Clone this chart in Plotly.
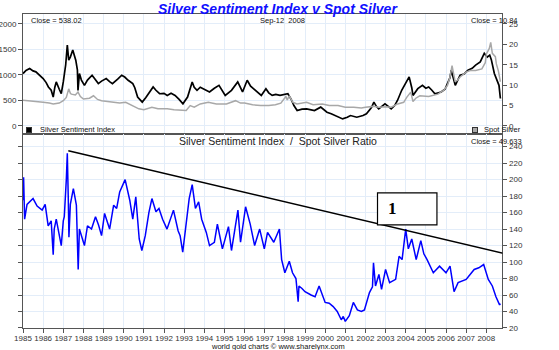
import plotly.graph_objects as go
from plotly.subplots import make_subplots

# ---------------- data ----------------
ssi_years = [1985.0,1985.15,1985.33,1985.5,1985.64,1985.8,1986.0,1986.15,1986.26,1986.4,1986.5,1986.58,1986.65,1986.8,1986.9,
             1987.0,1987.12,1987.2,1987.27,1987.35,1987.47,1987.55,1987.62,1987.7,1987.73,1987.8,1987.9,1988.05,1988.2,1988.43,
             1988.6,1988.74,1988.9,1989.13,1989.3,1989.44,1989.7,1989.9,1990.05,1990.22,1990.45,1990.55,1990.69,1990.8,1990.92,
             1991.1,1991.23,1991.46,1991.6,1991.78,1992.0,1992.16,1992.35,1992.55,1992.75,1992.94,1993.17,1993.4,1993.5,1993.64,
             1993.8,1993.95,1994.26,1994.5,1994.73,1995.04,1995.2,1995.35,1995.66,1995.9,1996.13,1996.3,1996.44,1996.6,1996.83,
             1997.06,1997.2,1997.37,1997.55,1997.76,1998.0,1998.15,1998.3,1998.45,1998.61,1998.85,1999.08,1999.3,1999.47,1999.78,
             2000.09,2000.3,2000.48,2000.7,2000.87,2001.1,2001.26,2001.57,2001.88,2002.05,2002.19,2002.3,2002.42,2002.55,2002.66,
             2002.85,2002.97,2003.15,2003.28,2003.45,2003.59,2003.8,2003.97,2004.1,2004.17,2004.3,2004.36,2004.6,2004.83,2005.0,
             2005.14,2005.3,2005.45,2005.76,2005.95,2006.07,2006.2,2006.26,2006.35,2006.46,2006.7,2006.9,2007.09,2007.3,2007.47,
             2007.7,2007.9,2008.05,2008.17,2008.25,2008.4,2008.55,2008.63,2008.7]
ssi_values = [1028,1090,1126,1080,1061,1000,929,850,765,700,567,760,863,720,632,
              863,1200,1587,1290,1350,1488,1380,1290,1100,698,1028,900,797,900,995,
              900,830,880,929,870,830,920,995,960,896,830,750,567,520,468,
              560,632,765,700,632,640,599,640,599,520,435,567,863,760,698,
              760,731,666,740,797,599,650,698,863,666,896,780,731,680,599,
              731,650,599,620,599,620,632,533,400,302,330,336,320,302,369,
              270,240,204,170,138,170,204,171,204,240,302,360,468,380,336,
              400,435,380,336,400,500,700,830,900,962,750,599,731,797,740,
              765,700,632,666,720,830,950,1093,950,797,995,1020,1093,1130,1192,
              1258,1423,1350,1390,1300,1028,900,797,538.02]

silver_years = [1985.0,1985.3,1985.6,1986.0,1986.3,1986.5,1986.8,1987.0,1987.15,1987.27,1987.35,1987.4,1987.6,1987.73,1987.85,
                1988.0,1988.3,1988.5,1988.7,1988.9,1989.2,1989.5,1989.8,1990.1,1990.4,1990.75,1991.0,1991.4,1991.7,1992.16,
                1992.5,1992.94,1993.1,1993.3,1993.5,1993.8,1994.2,1994.6,1995.1,1995.55,1995.8,1996.0,1996.4,1996.8,1997.2,
                1997.53,1997.8,1998.05,1998.12,1998.22,1998.4,1998.6,1999.08,1999.4,1999.86,2000.2,2000.64,2001.0,2001.42,2001.8,
                2002.0,2002.4,2002.66,2003.0,2003.28,2003.6,2003.9,2004.05,2004.25,2004.36,2004.5,2004.7,2005.14,2005.6,2005.9,
                2006.07,2006.2,2006.3,2006.45,2006.55,2006.7,2007.0,2007.2,2007.47,2007.78,2007.95,2008.0,2008.15,2008.22,2008.3,
                2008.35,2008.45,2008.5,2008.6,2008.7]
silver_values = [6.3,6.2,6.0,5.8,5.6,5.4,5.6,6.2,7.0,9.1,8.0,7.8,7.6,8.3,7.2,
                 6.6,6.8,7.4,6.5,6.2,6.0,5.8,5.6,5.8,5.0,4.2,4.0,4.6,4.2,4.2,
                 4.0,3.75,3.8,5.0,4.6,5.4,5.8,5.4,5.4,6.2,5.6,5.6,5.2,5.0,5.0,
                 5.2,5.6,7.2,6.4,7.4,5.8,5.4,5.8,5.2,5.4,5.0,5.0,4.6,4.6,4.4,
                 4.6,4.8,4.6,4.7,4.6,5.4,5.8,7.0,8.3,6.0,6.8,7.4,7.2,7.8,8.8,
                 9.9,12.0,14.8,11.0,11.1,12.0,13.2,13.6,13.6,14.0,15.5,17.6,19.0,20.5,17.8,
                 17.6,17.0,15.2,13.5,10.84]

ratio_years = [1985.0,1985.03,1985.08,1985.2,1985.5,1985.7,1985.95,1986.1,1986.25,1986.4,1986.5,1986.55,1986.65,1986.8,1986.9,
               1987.0,1987.05,1987.15,1987.2,1987.25,1987.28,1987.35,1987.5,1987.65,1987.72,1987.74,1987.8,1987.9,1988.05,1988.2,
               1988.4,1988.6,1988.75,1988.9,1989.05,1989.3,1989.5,1989.65,1989.8,1990.07,1990.2,1990.3,1990.45,1990.6,1990.77,
               1990.9,1991.07,1991.25,1991.4,1991.6,1991.75,1991.93,1992.15,1992.3,1992.47,1992.7,1992.8,1992.93,1993.1,1993.25,
               1993.4,1993.5,1993.56,1993.72,1993.87,1994.1,1994.26,1994.5,1994.65,1994.9,1995.2,1995.35,1995.5,1995.67,1995.8,
               1996.05,1996.28,1996.5,1996.75,1996.98,1997.14,1997.3,1997.45,1997.73,1997.84,1998.0,1998.22,1998.38,1998.55,1998.66,
               1998.7,1998.85,1999.0,1999.3,1999.5,1999.7,1999.85,2000.0,2000.2,2000.4,2000.6,2000.8,2000.9,2001.0,2001.2,
               2001.4,2001.6,2001.8,2001.95,2002.2,2002.35,2002.4,2002.5,2002.67,2002.8,2003.0,2003.2,2003.5,2003.67,2003.82,
               2004.0,2004.13,2004.3,2004.52,2004.75,2004.9,2005.06,2005.37,2005.68,2006.0,2006.2,2006.4,2006.6,2007.0,2007.4,
               2007.63,2007.87,2008.1,2008.3,2008.48,2008.66,2008.7]
ratio_values = [175,203,152,170,177,168,163,170,144,150,109,140,152,135,120,
                150,155,200,232,175,130,170,189,169,120,91,140,132,120,144,
                140,155,145,132,159,140,169,165,185,200,185,175,152,179,128,
                114,132,160,177,161,165,152,140,150,163,138,132,112,144,177,
                194,175,165,173,152,136,120,124,146,116,143,114,140,163,124,
                167,146,120,140,116,136,130,124,140,103,87,101,87,80,52,
                71,68,64,60,58,71,60,51,50,46,40,30,34,28,35,
                51,42,40,42,63,70,99,71,85,67,91,75,79,107,103,
                140,116,128,103,126,110,103,87,95,87,95,64,75,79,91,
                93,97,79,71,58,48,49.633]

year_ticks = list(range(1985, 2009))
year_labels = [str(y) for y in year_ticks]

trend_years = [1987.25, 2010.0]
trend_values = [235, 104]
box_years = [2002.6, 2005.55]
box_values = [145, 184]

# ---------------- figure ----------------
GRID = "#e3edf9"
AX = "#555555"
FAM = "Liberation Sans, Arial, sans-serif"
TF = dict(family=FAM, size=8, color="#333333")

fig = make_subplots(rows=2, cols=1, shared_xaxes=True, vertical_spacing=0,
                    row_heights=[0.382, 0.618],
                    specs=[[{"secondary_y": True}], [{}]])

fig.add_trace(go.Scatter(x=silver_years, y=silver_values, mode="lines",
                         line=dict(color="#a8a8a8", width=1.5), showlegend=False),
              row=1, col=1, secondary_y=True)
fig.add_trace(go.Scatter(x=ssi_years, y=ssi_values, mode="lines",
                         line=dict(color="#000000", width=1.7), showlegend=False),
              row=1, col=1, secondary_y=False)
fig.add_trace(go.Scatter(x=ratio_years, y=ratio_values, mode="lines",
                         line=dict(color="#0000ff", width=1.5), showlegend=False),
              row=2, col=1)

xcommon = dict(range=[1985, 2008.8], tickmode="array", tickvals=year_ticks,
               showgrid=True, gridcolor=GRID, gridwidth=1, zeroline=False,
               showline=True, linecolor=AX, linewidth=1, mirror=True, automargin=False)
fig.update_xaxes(**xcommon, showticklabels=False, ticks="", row=1, col=1)
fig.update_xaxes(**xcommon, ticktext=year_labels, ticks="outside", ticklen=4, tickangle=0,
                 ticklabelstandoff=-2, tickcolor=AX, tickfont=TF, row=2, col=1)

fig.update_yaxes(range=[-157, 2196], tickvals=[0, 500, 1000, 1500, 2000], ticks="outside",
                 ticklen=4, tickcolor=AX, tickfont=TF, showgrid=True, gridcolor=GRID,
                 zeroline=False, showline=True, linecolor=AX, mirror=False, automargin=False,
                 row=1, col=1, secondary_y=False)
fig.update_yaxes(range=[-1.96, 27.45], tickvals=[0, 5, 10, 15, 20, 25], ticks="outside",
                 ticklen=4, tickcolor=AX, tickfont=TF, showgrid=False, zeroline=False,
                 showline=True, linecolor=AX, side="right", automargin=False,
                 row=1, col=1, secondary_y=True)
fig.update_yaxes(range=[20, 255.4], tickvals=list(range(20, 241, 20)), ticks="outside",
                 ticklen=4, tickcolor=AX, tickfont=TF, showgrid=True, gridcolor=GRID,
                 zeroline=False, showline=True, linecolor=AX, mirror="all", side="right",
                 automargin=False, row=2, col=1)

# trend line and the "1" box
fig.add_shape(type="line", xref="x2", yref="y3", x0=trend_years[0], y0=trend_values[0],
              x1=trend_years[1], y1=trend_values[1], line=dict(color="#000000", width=1.6))
fig.add_shape(type="rect", xref="x2", yref="y3", x0=box_years[0], y0=box_values[0],
              x1=box_years[1], y1=box_values[1], fillcolor="#ffffff",
              line=dict(color="#000000", width=1.2))
fig.add_annotation(xref="x2", yref="y3", x=box_years[0] + 0.45, y=(box_values[0] + box_values[1]) / 2,
                   text="<b>1</b>", showarrow=False, xanchor="left", yanchor="middle", borderpad=0,
                   font=dict(family="Liberation Serif, Times New Roman, serif", size=17, color="#000000"))

# texts
small = dict(family=FAM, size=7.5, color="#111111")
def note(x, y, text, xanchor="left", font=small, yanchor="middle"):
    fig.add_annotation(xref="paper", yref="paper", x=x, y=y, text=text, showarrow=False,
                       xanchor=xanchor, yanchor=yanchor, font=font, borderpad=0)

def py(pix):
    return (328 - pix) / 314

note(0.5, 1 + 14 / 314, "<b><i>Silver Sentiment Index v Spot Silver</i></b>", xanchor="center",
     yanchor="top", font=dict(family=FAM, size=14, color="#1010ff"))
note(0.0137, py(20), "Close = 538.02")
note(0.508, py(20), "Sep-12&nbsp;&nbsp;2008", xanchor="center")
note(0.972, py(20), "Close = 10.84", xanchor="right")
note(0.5, py(141), "Silver Sentiment Index&nbsp;&nbsp;/&nbsp;&nbsp;Spot Silver Ratio", xanchor="center",
     font=dict(family=FAM, size=10.5, color="#222222"))
note(0.98, py(141), "Close = 49.633", xanchor="right")
note(0.5, py(346.5), "world gold charts © www.sharelynx.com", xanchor="center",
     font=dict(family=FAM, size=7.5, color="#111111"))

# legend keys
for kx, kcol, ktext, tx in [(0.0127, "#000000", "Silver Sentiment Index", 0.031),
                            (0.887, "#aaaaaa", "Spot Silver", 0.902)]:
    fig.add_annotation(xref="paper", yref="paper", x=kx, y=py(130), text=" ", showarrow=False,
                       width=4, height=4, bgcolor=kcol, bordercolor="#333333", borderwidth=1,
                       borderpad=0, xanchor="center", yanchor="middle", font=dict(size=2))
    note(tx, py(129.5), ktext)

fig.update_layout(width=559, height=350, margin=dict(l=23, r=26, t=14, b=22, autoexpand=False),
                  paper_bgcolor="#ffffff", plot_bgcolor="#ffffff", showlegend=False)

fig.write_html("out.html")
